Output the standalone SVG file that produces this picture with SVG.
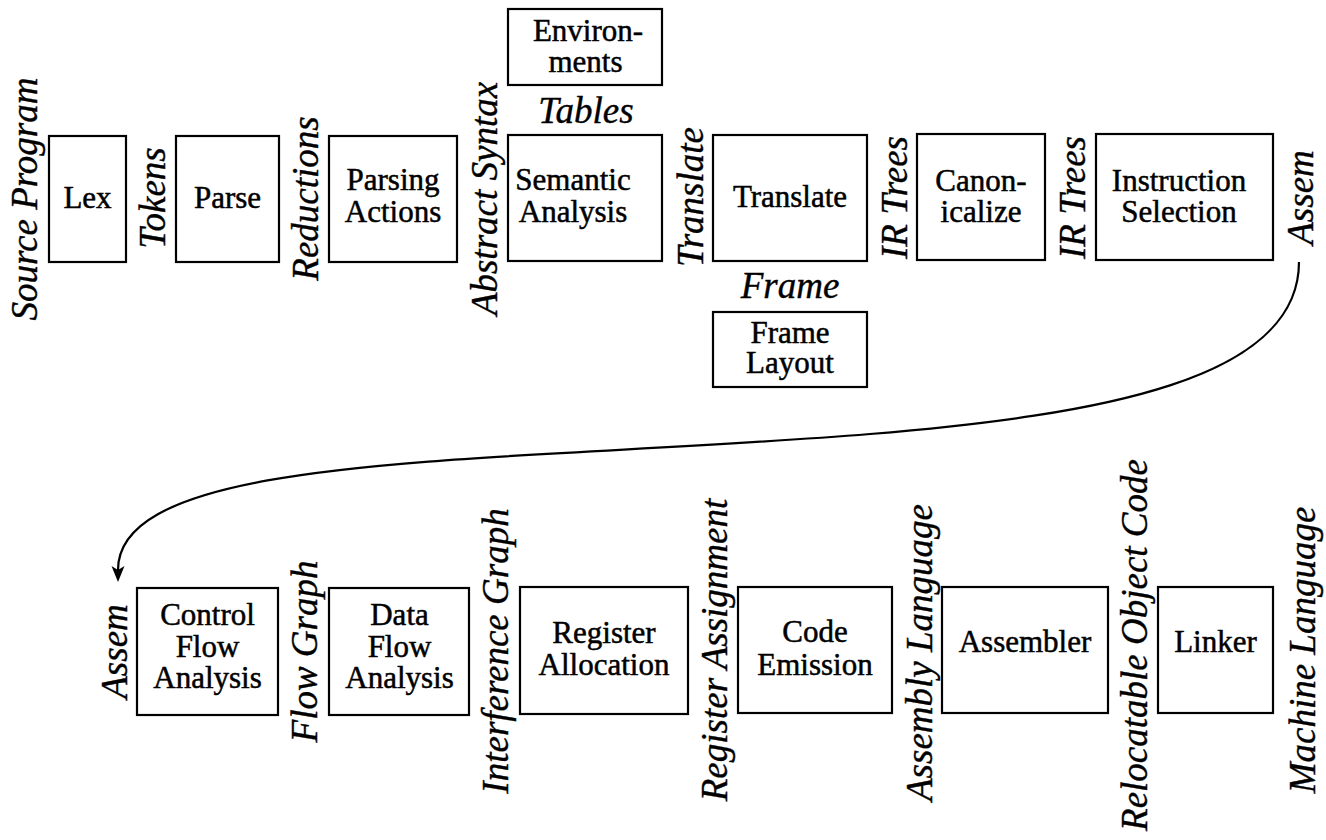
<svg xmlns="http://www.w3.org/2000/svg" width="1326" height="840" viewBox="0 0 1326 840">
<style>
.box{fill:#fff;stroke:#000;stroke-width:2.2}
.t{font-family:"Liberation Serif","Times New Roman",serif;font-size:31px;text-anchor:middle;fill:#000;stroke:#000;stroke-width:0.5}
.l{font-family:"Liberation Serif","Times New Roman",serif;font-size:37px;font-style:italic;text-anchor:middle;fill:#000;stroke:#000;stroke-width:0.4}
.c{fill:none;stroke:#000;stroke-width:2.2}
</style>
<defs>
<marker id="ah" markerUnits="userSpaceOnUse" viewBox="-17 -7 17 14" markerWidth="17" markerHeight="14" refX="-12" refY="0" orient="auto">
<path d="M0,0 L-16,-6.5 L-12,0 L-16,6.5 Z" fill="#000"/>
</marker>
</defs>
<rect width="1326" height="840" fill="#fff"/>

<g id="connectors">
<path class="c" d="M1299,262 C1299,380 1100,415 870,434 C500,464 118,450 118,570" marker-end="url(#ah)"/>
</g>

<g id="labels">
<text class="l" transform="translate(37,199) rotate(-90)">Source Program</text>
<text class="l" transform="translate(165,198) rotate(-90)">Tokens</text>
<text class="l" transform="translate(318,198.5) rotate(-90)">Reductions</text>
<text class="l" transform="translate(497,198.5) rotate(-90)">Abstract Syntax</text>
<text class="l" transform="translate(703,197) rotate(-90)">Translate</text>
<text class="l" transform="translate(907,197.5) rotate(-90)">IR Trees</text>
<text class="l" transform="translate(1085,197.5) rotate(-90)">IR Trees</text>
<text class="l" transform="translate(1313,197.5) rotate(-90)">Assem</text>
<text class="l" x="586" y="123">Tables</text>
<text class="l" x="790" y="298">Frame</text>
<text class="l" transform="translate(127,651.5) rotate(-90)">Assem</text>
<text class="l" transform="translate(317,651.5) rotate(-90)">Flow Graph</text>
<text class="l" transform="translate(508,651) rotate(-90)">Interference Graph</text>
<text class="l" transform="translate(727,650) rotate(-90)">Register Assignment</text>
<text class="l" transform="translate(932,652.5) rotate(-90)">Assembly Language</text>
<text class="l" transform="translate(1147,645) rotate(-90)">Relocatable Object Code</text>
<text class="l" transform="translate(1315,650) rotate(-90)">Machine Language</text>
</g>

<g id="lex"><rect class="box" x="49" y="136" width="77" height="126"/><text class="t" x="87.5" y="208">Lex</text></g>
<g id="parse"><rect class="box" x="176" y="136" width="103" height="126"/><text class="t" x="227.5" y="208">Parse</text></g>
<g id="parsing-actions"><rect class="box" x="329" y="136" width="128" height="126"/><text class="t"><tspan x="393" y="190">Parsing</tspan><tspan x="393" y="222">Actions</tspan></text></g>
<g id="environments"><rect class="box" x="508" y="9" width="154" height="76"/><text class="t"><tspan x="588" y="41">Environ-</tspan><tspan x="585.5" y="72">ments</tspan></text></g>
<g id="semantic-analysis"><rect class="box" x="508" y="135" width="154" height="126"/><text class="t"><tspan x="573" y="190">Semantic</tspan><tspan x="573" y="222">Analysis</tspan></text></g>
<g id="translate"><rect class="box" x="713" y="135" width="154" height="126"/><text class="t" x="790" y="207">Translate</text></g>
<g id="frame-layout"><rect class="box" x="713" y="312" width="154" height="75"/><text class="t"><tspan x="790" y="343">Frame</tspan><tspan x="790" y="373">Layout</tspan></text></g>
<g id="canonicalize"><rect class="box" x="917" y="134" width="128" height="126"/><text class="t"><tspan x="981" y="191">Canon-</tspan><tspan x="981" y="222">icalize</tspan></text></g>
<g id="instruction-selection"><rect class="box" x="1096" y="134" width="177" height="126"/><text class="t"><tspan x="1179" y="191">Instruction</tspan><tspan x="1179" y="222">Selection</tspan></text></g>

<g id="control-flow-analysis"><rect class="box" x="137" y="588" width="141" height="127"/><text class="t"><tspan x="207.5" y="625">Control</tspan><tspan x="207.5" y="657">Flow</tspan><tspan x="207.5" y="688">Analysis</tspan></text></g>
<g id="data-flow-analysis"><rect class="box" x="329" y="588" width="140" height="127"/><text class="t"><tspan x="399.5" y="625">Data</tspan><tspan x="399.5" y="657">Flow</tspan><tspan x="399.5" y="688">Analysis</tspan></text></g>
<g id="register-allocation"><rect class="box" x="520" y="587" width="168" height="127"/><text class="t"><tspan x="604" y="643">Register</tspan><tspan x="604" y="675">Allocation</tspan></text></g>
<g id="code-emission"><rect class="box" x="738" y="587" width="154" height="126"/><text class="t"><tspan x="815" y="642">Code</tspan><tspan x="815" y="675">Emission</tspan></text></g>
<g id="assembler"><rect class="box" x="942" y="587" width="166" height="126"/><text class="t" x="1025" y="652">Assembler</text></g>
<g id="linker"><rect class="box" x="1158" y="587" width="115" height="126"/><text class="t" x="1215.5" y="652">Linker</text></g>
</svg>
